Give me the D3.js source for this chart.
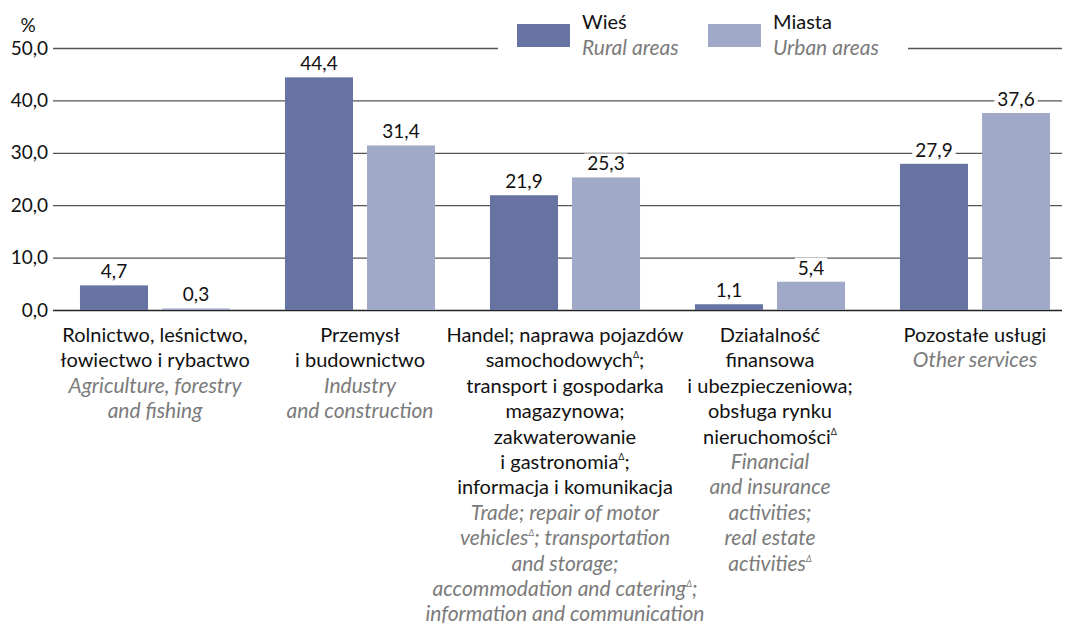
<!DOCTYPE html>
<html>
<head>
<meta charset="utf-8">
<script src="https://cdn.jsdelivr.net/npm/d3@7"></script>
<style>
  body { margin: 0; background: #fff; }
  svg { font-family: Lato, "Noto Sans", sans-serif; }
</style>
</head>
<body>
<div id="chart"></div>
<script>
// values
var categories = ['agri', 'industry', 'trade', 'finance', 'other'];
var series = ['rural', 'urban'];
var rural = [4.7, 44.4, 21.9, 1.1, 27.9];
var urban = [0.3, 31.4, 25.3, 5.4, 37.6];
var yTicks = [0, 10, 20, 30, 40, 50];

// "^" marks a superscript triangle
var labelsPl = [
  ['Rolnictwo, leśnictwo,', 'łowiectwo i rybactwo'],
  ['Przemysł', 'i budownictwo'],
  ['Handel; naprawa pojazdów', 'samochodowych^;', 'transport i gospodarka', 'magazynowa;',
   'zakwaterowanie', 'i gastronomia^;', 'informacja i komunikacja'],
  ['Działalność', 'finansowa', 'i ubezpieczeniowa;', 'obsługa rynku', 'nieruchomości^'],
  ['Pozostałe usługi']
];
var labelsEn = [
  ['Agriculture, forestry', 'and fishing'],
  ['Industry', 'and construction'],
  ['Trade; repair of motor', 'vehicles^; transportation', 'and storage;',
   'accommodation and catering^;', 'information and communication'],
  ['Financial', 'and insurance', 'activities;', 'real estate', 'activities^'],
  ['Other services']
];
var legendPl = ['Wieś', 'Miasta'];
var legendEn = ['Rural areas', 'Urban areas'];

var width = 1067, height = 627;
var colors = { rural: '#6673a3', urban: '#a1a9c8' };
var grey = '#7b7b7b';
var textSize = 20, italicSize = 21, numSize = 19;

var svg = d3.select('#chart').append('svg')
  .attr('width', width)
  .attr('height', height);

var x = d3.scaleBand()
  .domain(categories)
  .range([52.5, 1077.5])
  .paddingInner(0.268)
  .paddingOuter(0.134);

var xs = d3.scaleBand()
  .domain(series)
  .range([0, x.bandwidth()])
  .paddingInner(0.1707);

var y = d3.scaleLinear()
  .domain([0, 50])
  .range([310, 48]);

var fmt = function(v) { return d3.format('.1f')(v).replace('.', ','); };

// y axis: gridlines + tick labels
var yAxis = d3.axisLeft(y)
  .tickValues(yTicks)
  .tickSize(-(1062 - 53))
  .tickPadding(5)
  .tickFormat(fmt);

var ga = svg.append('g')
  .attr('transform', 'translate(53,0)')
  .call(yAxis);
ga.select('.domain').remove();
ga.selectAll('.tick line')
  .attr('stroke', function(d) { return d === 0 ? '#222' : '#555'; })
  .attr('stroke-width', function(d) { return d === 0 ? 1.6 : 1.3; });
ga.selectAll('.tick text')
  .attr('font-size', numSize)
  .attr('fill', '#111')
  .attr('font-family', 'Lato');

svg.append('text')
  .attr('x', 28).attr('y', 32)
  .attr('text-anchor', 'middle')
  .attr('font-size', numSize)
  .attr('fill', '#111')
  .text('%');

// rows of data
var rows = categories.map(function(c, i) {
  return { cat: c, i: i, vals: [{ s: 'rural', v: rural[i] }, { s: 'urban', v: urban[i] }] };
});

var groups = svg.append('g').selectAll('g')
  .data(rows)
  .enter().append('g')
  .attr('transform', function(d) { return 'translate(' + x(d.cat) + ',0)'; });

groups.selectAll('rect')
  .data(function(d) { return d.vals; })
  .enter().append('rect')
  .attr('x', function(d) { return xs(d.s); })
  .attr('y', function(d) { return y(d.v); })
  .attr('width', xs.bandwidth())
  .attr('height', function(d) { return y(0) - y(d.v); })
  .attr('fill', function(d) { return colors[d.s]; });

// value labels with white knock-out behind them
var vl = groups.selectAll('g.val')
  .data(function(d) { return d.vals; })
  .enter().append('g')
  .attr('class', 'val');

vl.append('text')
  .attr('x', function(d) { return xs(d.s) + xs.bandwidth() / 2; })
  .attr('y', function(d) { return y(d.v) - 7; })
  .attr('text-anchor', 'middle')
  .attr('font-size', numSize)
  .attr('fill', '#111')
  .text(function(d) { return fmt(d.v); })
  .each(function() {
    var b = this.getBBox();
    d3.select(this.parentNode).insert('rect', 'text')
      .attr('x', b.x - 3).attr('y', b.y + 2)
      .attr('width', b.width + 6).attr('height', b.height - 4)
      .attr('fill', '#fff');
  });

// category labels
function addLine(sel, str) {
  var parts = str.split('^');
  sel.append('tspan').text(parts[0]);
  if (parts.length > 1) {
    sel.append('tspan').attr('font-size', 9).attr('dy', -9).text('\u0394');
    sel.append('tspan').attr('dy', 9).text(parts[1]);
  }
}

var lineH = 25.4, firstY = 342;
rows.forEach(function(r) {
  var cx = x(r.cat) + x.bandwidth() / 2;
  var lines = labelsPl[r.i].map(function(s) { return { s: s, it: false }; })
    .concat(labelsEn[r.i].map(function(s) { return { s: s, it: true }; }));
  lines.forEach(function(l, k) {
    var t = svg.append('text')
      .attr('x', cx)
      .attr('y', firstY + k * lineH)
      .attr('text-anchor', 'middle')
      .attr('font-size', l.it ? italicSize : textSize)
      .attr('fill', l.it ? grey : '#111')
      .attr('font-style', l.it ? 'italic' : 'normal');
    addLine(t, l.s);
  });
});

// legend, breaking the top gridline
svg.append('rect')
  .attr('x', 498).attr('y', 40).attr('width', 410).attr('height', 18)
  .attr('fill', '#fff');

var legX = [517, 708];
series.forEach(function(s, i) {
  var g = svg.append('g').attr('transform', 'translate(' + legX[i] + ',0)');
  g.append('rect')
    .attr('x', 0).attr('y', 24).attr('width', 53).attr('height', 23)
    .attr('fill', colors[s]);
  g.append('text')
    .attr('x', 65).attr('y', 29)
    .attr('font-size', textSize).attr('fill', '#111')
    .text(legendPl[i]);
  g.append('text')
    .attr('x', 65).attr('y', 55)
    .attr('font-size', italicSize).attr('fill', grey)
    .attr('font-style', 'italic')
    .text(legendEn[i]);
});
</script>
</body>
</html>
